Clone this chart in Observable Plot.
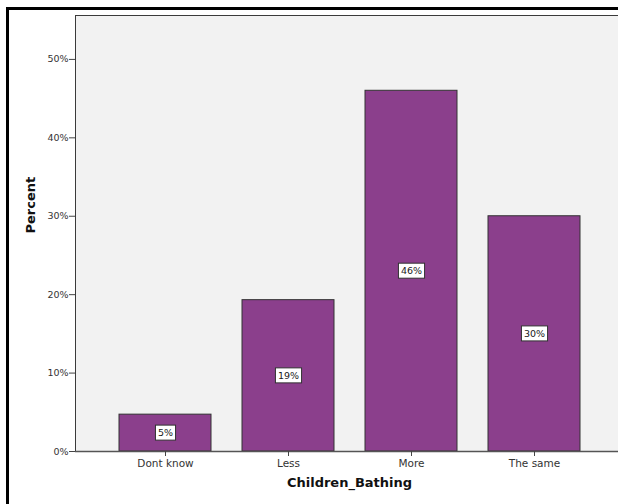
<!DOCTYPE html>
<html>
<head>
<meta charset="utf-8">
<script src="https://cdn.jsdelivr.net/npm/d3@7"></script>
<script src="https://cdn.jsdelivr.net/npm/@observablehq/plot@0.6"></script>
<style>
  html, body { margin: 0; padding: 0; background: #fff; }
  #wrap { position: relative; width: 618px; height: 504px; overflow: hidden; }
  #outer { position: absolute; left: 6px; top: 7px; width: 800px; height: 800px;
           border-left: 3px solid #000; border-top: 3px solid #000; pointer-events: none; }
  #chart { position: absolute; left: 0; top: 0; width: 640px; }
  #chart svg { max-width: none !important; }
</style>
</head>
<body>
<div id="wrap"><div id="chart"></div><div id="outer"></div></div>
<script>
const categories = ["Dont know", "Less", "More", "The same"];
const percents = [4.7, 19.3, 46.0, 30.0];
const barLabels = ["5%", "19%", "46%", "30%"];
const yTicks = [0, 10, 20, 30, 40, 50];
const xTitle = "Children_Bathing";
const yTitle = "Percent";
const labelInk = "#202021";

const data = categories.map((c, i) => ({category: c, percent: percents[i], label: barLabels[i]}));

const chart = Plot.plot({
  width: 640,
  height: 504,
  marginTop: 15,
  marginLeft: 75,
  marginRight: 17,
  marginBottom: 53,
  style: {fontFamily: "DejaVu Sans, sans-serif", background: "transparent", color: "#222", maxWidth: "none"},
  x: {domain: categories, paddingInner: 0.255, paddingOuter: 0, insetLeft: 43, insetRight: 42, label: null},
  y: {domain: [0, 55.6], label: null},
  marks: [
    Plot.frame({fill: "#f2f2f2", stroke: "#3a3a3a", strokeWidth: 1}),
    Plot.barY(data, {x: "category", y: "percent", fill: "#8b3f8c", stroke: "#333", strokeWidth: 1}),
    Plot.ruleY([0], {stroke: "#555", strokeWidth: 1.5}),
    Plot.axisY({ticks: yTicks, tickFormat: d => d + "%", tickSize: 6, tickPadding: 1, fontSize: 9.5, label: null, stroke: "#444", fill: "#333"}),
    Plot.axisX({tickSize: 5, tickPadding: 3, fontSize: 10.5, label: null, stroke: "#444", fill: "#333"}),
    Plot.text(data, {x: "category", y: d => d.percent / 2, text: "label", fontSize: 9.5, fill: labelInk}),
    Plot.text([xTitle], {frameAnchor: "bottom", dy: 35, fontSize: 13, fontWeight: "bold", fill: "#111"}),
    Plot.text([yTitle], {frameAnchor: "left", dx: -45, rotate: -90, fontSize: 13, fontWeight: "bold", fill: "#111"})
  ]
});

document.getElementById("chart").appendChild(chart);

// white boxes behind the bar value labels
chart.querySelectorAll(`g[fill="${labelInk}"] text`).forEach(t => {
  const b = t.getBBox();
  const r = document.createElementNS("http://www.w3.org/2000/svg", "rect");
  r.setAttribute("x", b.x - 2.5);
  r.setAttribute("y", b.y - 2);
  r.setAttribute("width", b.width + 5);
  r.setAttribute("height", b.height + 4);
  r.setAttribute("fill", "#fff");
  r.setAttribute("stroke", "#333");
  r.setAttribute("stroke-width", "1");
  const tr = t.getAttribute("transform");
  if (tr) r.setAttribute("transform", tr);
  t.parentNode.insertBefore(r, t);
});
</script>
</body>
</html>
